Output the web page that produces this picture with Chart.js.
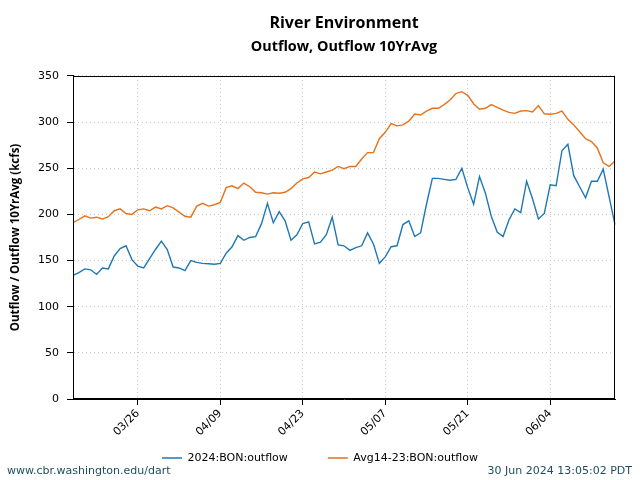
<!DOCTYPE html>
<html>
<head>
<meta charset="utf-8">
<script src="https://cdn.jsdelivr.net/npm/chart.js@4.4.0/dist/chart.umd.min.js"></script>
<style>
    html, body { margin: 0; padding: 0; background: #fff; }
    #wrap { position: relative; width: 640px; height: 480px; }
    .foot { position: absolute; top: 464px; line-height: 13px; font: 11px "DejaVu Sans", sans-serif; color: #1e4d5e; white-space: nowrap; }
</style>
</head>
<body>
<div id="wrap">
    <canvas id="flowChart" width="640" height="480"></canvas>
    <div class="foot" style="left:7px">www.cbr.washington.edu/dart</div>
    <div class="foot" style="right:8px">30 Jun 2024 13:05:02 PDT</div>
</div>
<script>
// Daily values, 03/15 .. 06/15 (2024), kcfs
const startDay = new Date(2024, 2, 15);
const dayCount = 93;
const tickLabels = ['03/26', '04/09', '04/23', '05/07', '05/21', '06/04'];

const outflow2024 = [
    134, 137, 141, 140, 135, 142, 141, 155, 163, 166,
    151, 144, 142, 152, 162, 171, 162, 143, 142, 139,
    150, 148, 147, 146.5, 146, 147, 158, 165, 177, 172,
    175, 176, 190, 212, 191, 203, 193, 172, 178, 190,
    192, 168, 170, 178, 197, 167, 166, 161, 164, 166,
    180, 168, 147, 154, 165, 166, 189, 193, 176, 180,
    211, 239, 239, 238, 237, 238, 250, 229, 211, 241,
    223, 198, 181, 176, 194, 206, 202, 236, 217, 195,
    201, 232, 231, 269, 276, 242, 230, 218, 236, 236,
    249, 219, 189
];

const outflowAvg = [
    191, 194.5, 198.5, 196, 197, 195, 197.5, 204, 206, 201,
    200, 205, 206, 204, 208, 206, 209.5, 207, 202.5, 198,
    197, 209, 212, 209, 210.5, 213, 229, 231, 228, 234,
    230, 224, 223.5, 222, 223.5, 223, 224, 228, 234, 238.5,
    240, 246, 244, 246, 248, 252, 249.5, 252, 252, 260,
    267, 267, 282, 289, 298.5, 296, 297, 301, 308.8, 307.7,
    312, 315, 315, 319, 324, 331, 333, 329, 320, 314,
    315, 319, 316, 313, 310.5, 309.5, 312, 312.5, 311, 318,
    309, 308.5, 309.5, 312, 303, 297, 289.5, 282, 279, 272,
    256, 252, 258
];

const dayLabels = [];
for (let i = 0; i < dayCount; i++) {
    const d = new Date(startDay.getFullYear(), startDay.getMonth(), startDay.getDate() + i);
    dayLabels.push(String(d.getMonth() + 1).padStart(2, '0') + '/' + String(d.getDate()).padStart(2, '0'));
}

const isTick = idx => tickLabels.includes(dayLabels[idx]);

// box round the plot area
const plotFrame = {
    id: 'plotFrame',
    afterDatasetsDraw(chart) {
        const { ctx, chartArea: a } = chart;
        const l = Math.round(a.left) + 0.5, t = Math.round(a.top) + 0.5;
        const r = Math.round(a.right) - 0.5, b = Math.round(a.bottom) - 0.5;
        ctx.save();
        ctx.strokeStyle = '#000';
        ctx.lineWidth = 1;
        ctx.strokeRect(l, t, r - l, b - t);
        ctx.restore();
    }
};

Chart.defaults.font.family = 'DejaVu Sans';
Chart.defaults.color = '#000';

new Chart(document.getElementById('flowChart'), {
    type: 'line',
    data: {
        labels: dayLabels,
        datasets: [
            {
                label: '2024:BON:outflow',
                data: outflow2024,
                borderColor: '#1f77b4',
                backgroundColor: '#1f77b4',
                borderWidth: 1.4,
                pointRadius: 0,
                tension: 0
            },
            {
                label: 'Avg14-23:BON:outflow',
                data: outflowAvg,
                borderColor: '#e8711a',
                backgroundColor: '#e8711a',
                borderWidth: 1.4,
                pointRadius: 0,
                tension: 0
            }
        ]
    },
    options: {
        responsive: false,
        animation: false,
        devicePixelRatio: 1,
        layout: { padding: { top: 0, right: 0, bottom: 6.5, left: 0 } },
        plugins: {
            title: {
                display: true,
                text: 'River Environment',
                fullSize: false,
                color: '#000',
                font: { family: 'Open Sans', size: 16, weight: 'bold' },
                padding: { top: 14.2, bottom: 0 }
            },
            subtitle: {
                display: true,
                text: 'Outflow, Outflow 10YrAvg',
                fullSize: false,
                color: '#000',
                font: { family: 'Open Sans', size: 14.4, weight: 'bold' },
                padding: { top: 5, bottom: 20.3 }
            },
            legend: {
                position: 'bottom',
                labels: {
                    usePointStyle: true,
                    pointStyle: 'line',
                    pointStyleWidth: 20,
                    padding: 12,
                    color: '#000',
                    font: { family: 'DejaVu Sans', size: 11 },
                    // wider gap between the two entries, as in the original
                    generateLabels: chart => {
                        const items = Chart.defaults.plugins.legend.labels.generateLabels(chart);
                        items.forEach((it, i) => {
                            if (i < items.length - 1) it.text += '        ';
                        });
                        return items;
                    }
                }
            },
            tooltip: { enabled: false }
        },
        scales: {
            x: {
                type: 'category',
                offset: false,
                grid: {
                    color: c => isTick(c.index) ? '#c8c8c8' : 'transparent',
                    tickColor: c => isTick(c.index) ? '#000' : 'transparent',
                    tickLength: 6,
                    lineWidth: 1
                },
                border: { color: '#000', width: 1, dash: [1, 3] },
                ticks: {
                    autoSkip: false,
                    minRotation: 45,
                    maxRotation: 45,
                    padding: 2,
                    color: '#000',
                    font: { family: 'DejaVu Sans', size: 11 },
                    callback: function (value) {
                        const lbl = this.getLabelForValue(value);
                        return tickLabels.includes(lbl) ? lbl : '';
                    }
                },
                afterFit: s => { s.height = 41.5; }
            },
            y: {
                min: 0,
                max: 350,
                ticks: {
                    stepSize: 50,
                    padding: 8,
                    color: '#000',
                    font: { family: 'DejaVu Sans', size: 11 }
                },
                grid: { color: '#c8c8c8', tickColor: '#000', tickLength: 6 },
                border: { color: '#000', width: 1, dash: [1, 3] },
                title: {
                    display: true,
                    text: 'Outflow / Outflow 10YrAvg (kcfs)',
                    color: '#000',
                    font: { family: 'Open Sans', size: 11.5, weight: 'bold' },
                    padding: { top: 9.1, bottom: 0 }
                },
                afterFit: s => { s.width = 73; }
            },
            y2: {
                position: 'right',
                grid: { display: false },
                ticks: { display: false },
                border: { display: false },
                afterFit: s => { s.width = 25; }
            }
        }
    },
    plugins: [plotFrame]
});
</script>
</body>
</html>
